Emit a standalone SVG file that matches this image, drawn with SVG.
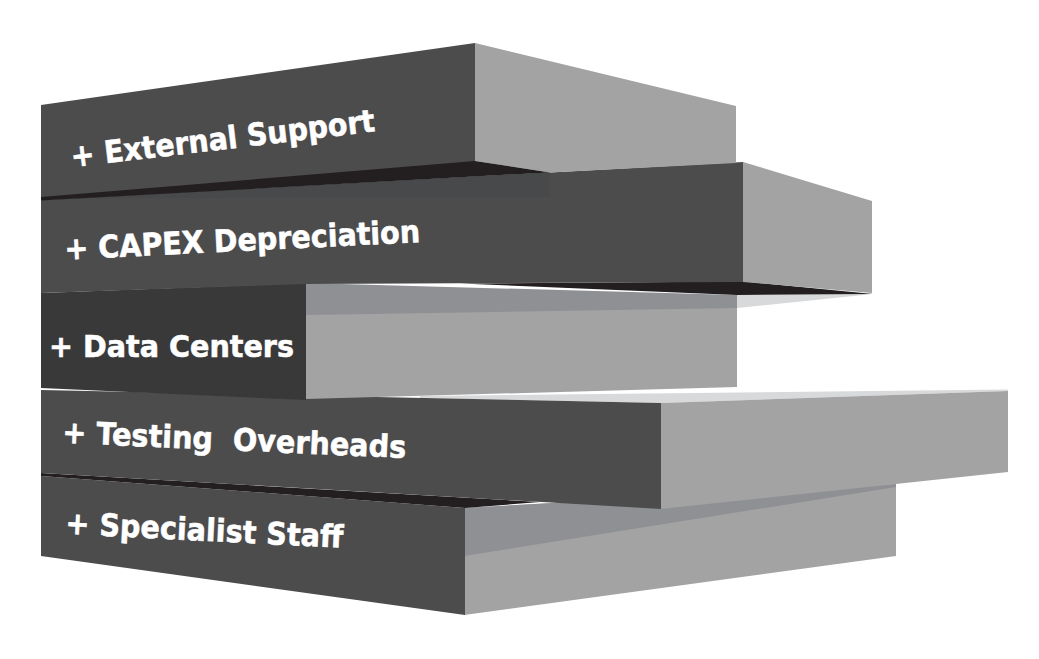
<svg xmlns="http://www.w3.org/2000/svg" width="1039" height="659" viewBox="0 0 1039 659">
  <style>
    .front{fill:#4d4c4d}
    .front-dark{fill:#3a393a}
    .side{fill:#a3a3a3}
    .band{fill:#8f9094}
    .top{fill:#d8d9db}
    .shadow{fill:#231f20}
    .lbl{font-family:"DejaVu Sans","Verdana",sans-serif;font-weight:bold;font-size:31px;fill:#ffffff;stroke:#ffffff;stroke-width:0.6px}
  </style>
  <rect x="0" y="0" width="1039" height="659" fill="#ffffff"/>

  <g id="specialist-staff">
    <polygon class="side" points="464,508 896,484 896,556 464,615"/>
    <polygon class="band" points="464,508 896,484 896,487 464,556"/>
    <polygon class="front" points="41,476 465,508 465,615 41,556"/>
    <text class="lbl" transform="translate(68,534) rotate(2.86)" x="-3" y="0" textLength="278" lengthAdjust="spacingAndGlyphs">+ Specialist Staff</text>
  </g>

  <g id="testing-overheads">
    <polygon class="shadow" points="41,473 540,502 465,508 41,476"/>
    <polygon class="top" points="420,396 1008,389.5 1008,391 661,403 420,398"/>
    <polygon class="side" points="661,403 1008,391 1008,472 661,509"/>
    <polygon class="front" points="41,390 661,403 661,509 41,473"/>
    <text class="lbl" transform="translate(65,443) rotate(2.5)" x="-3" y="0" textLength="344" lengthAdjust="spacingAndGlyphs" xml:space="preserve" style="white-space:pre">+ Testing  Overheads</text>
  </g>

  <g id="data-centers">
    <polygon class="side" points="306,312 737,306 737,387 306,399"/>
    <polygon class="band" points="306,283 737,295 737,308 306,315"/>
    <polygon class="top" points="737,295 873,294 737,308"/>
    <polygon class="front-dark" points="41,293 306,283 306,400 41,388"/>
    <text class="lbl" x="49" y="357" textLength="245" lengthAdjust="spacingAndGlyphs">+ Data Centers</text>
  </g>

  <g id="capex-depreciation">
    <polygon class="shadow" points="460,283.5 744,281.5 873,294 737,295"/>
    <polygon class="side" points="743,162 872,201 872,293 743,282"/>
    <polygon class="front" points="41,200 743,162 743,282 306,284 41,293"/>
    <polygon fill="#48494b" points="41,200 550,172.4 550,197 41,198.5"/>
    <text class="lbl" transform="translate(68,259.5) rotate(-2.85)" x="-3" y="0" textLength="356" lengthAdjust="spacingAndGlyphs">+ CAPEX Depreciation</text>
  </g>

  <g id="external-support">
    <polygon class="side" points="475,43 736,106 736,163 550,172.5 475,161"/>
    <polygon class="front" points="41,105 475,43 475,162 41,198"/>
    <polygon class="shadow" points="41,197 475,161 550,172.4 41,200.5"/>
    <text class="lbl" transform="translate(75,167) rotate(-6.8)" x="-3" y="0" textLength="306" lengthAdjust="spacingAndGlyphs">+ External Support</text>
  </g>
</svg>
